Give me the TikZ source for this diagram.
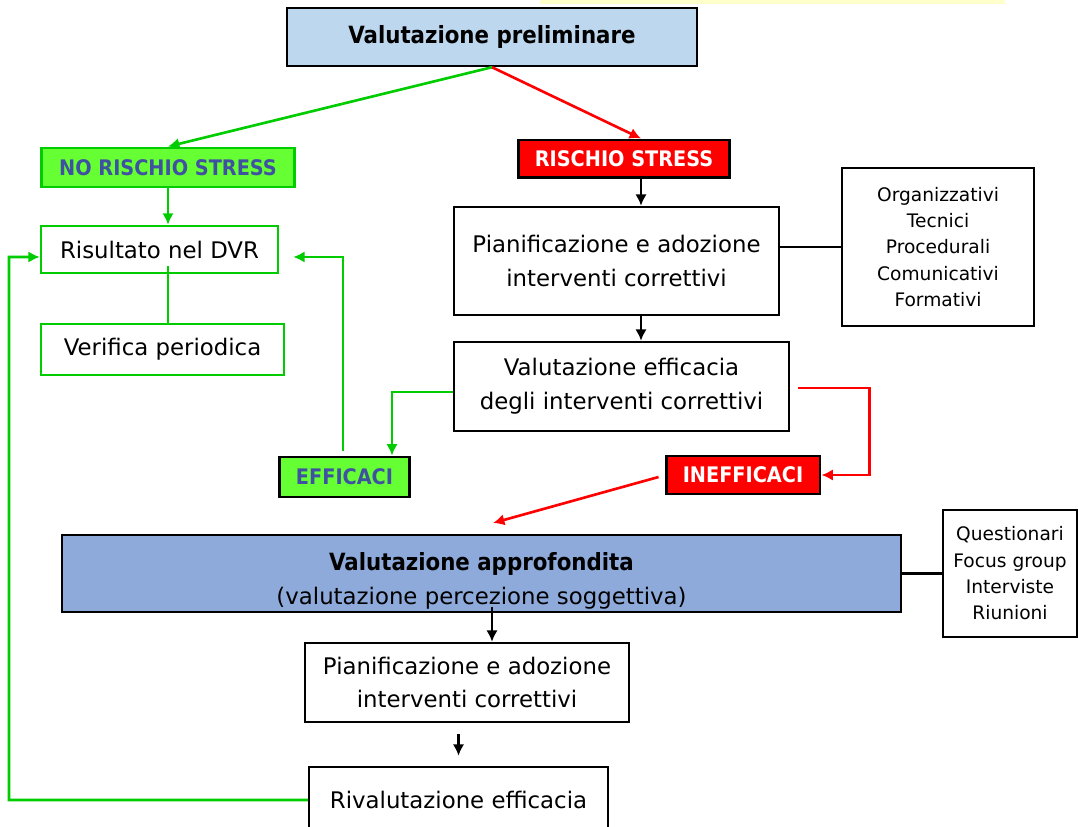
\documentclass[tikz,border=0pt]{standalone}
\usepackage{fontspec}
\setmainfont{DejaVu Sans}
\newfontfamily\condfont{DejaVu Sans Condensed}
\usepackage{xcolor}
\usetikzlibrary{positioning,calc,arrows.meta}

\definecolor{prelimblue}{HTML}{BDD7EE}
\definecolor{deepblue}{HTML}{8EAADB}
\definecolor{flaggreen}{HTML}{66FF33}
\definecolor{linegreen}{HTML}{00CC00}
\definecolor{labelblue}{HTML}{3F51A0}
\definecolor{paleyellow}{HTML}{FFFFCC}

\newcommand{\boxfont}{\fontsize{13}{19.3}\selectfont}
\newcommand{\listfont}{\fontsize{10.6}{15}\selectfont}
\newcommand{\headfont}{\condfont\bfseries\fontsize{13.5}{19.8}\selectfont}
\newcommand{\flagfont}{\condfont\bfseries\fontsize{12.2}{14}\selectfont}

\begin{document}
\begin{tikzpicture}[x=0.02cm,y=-0.02cm,
    box/.style={draw=black, line width=1.4pt, fill=white, align=center, inner sep=0pt, font=\boxfont},
    greenbox/.style={box, draw=linegreen, line width=1.5pt},
    listbox/.style={box, font=\listfont},
    flag/.style={draw=black, line width=1.7pt, inner sep=0pt, font=\flagfont},
    goodflag/.style={flag, fill=flaggreen, text=labelblue},
    badflag/.style={flag, fill=red, text=white},
    arr/.style={black, line width=1.4pt, -{Latex[length=6.5pt,width=6.5pt]}},
    garr/.style={linegreen, line width=1.5pt, -{Latex[length=6.5pt,width=6.5pt]}},
    rarr/.style={red, line width=1.5pt, -{Latex[length=6.5pt,width=6.5pt]}},
    gline/.style={linegreen, line width=1.5pt}]

    \clip (0,0) rectangle (1078,827);

    % strip on top
    \fill[paleyellow] (540,0) rectangle (1005,4);

    % first stage
    \node[box, fill=prelimblue, font=\headfont, minimum width=8.2cm, minimum height=1.16cm] (prelim) at (492,37) {Valutazione preliminare};
    \node[goodflag, draw=linegreen, minimum width=5.08cm, minimum height=0.78cm] (norisk) at (168,167.5) {NO RISCHIO STRESS};
    \node[badflag, minimum width=4.24cm, minimum height=0.76cm] (risk) at (624,159) {RISCHIO STRESS};
    \coordinate (axis) at (641,0);

    % left branch
    \node[greenbox, minimum width=4.74cm, minimum height=0.94cm] (risultato) at (159.5,249.5) {Risultato nel DVR};
    \node[greenbox, minimum width=4.86cm, minimum height=1.02cm] (verifica) at (162.5,349.5) {Verifica periodica};

    % right branch
    \node[box, minimum width=6.5cm, minimum height=2.16cm] (pian1) at (616.5,261) {Pianificazione e adozione\\interventi correttivi};
    \node[listbox, minimum width=3.84cm, minimum height=3.16cm] (org) at (938,247) {Organizzativi\\Tecnici\\Procedurali\\Comunicativi\\Formativi};
    \node[box, minimum width=6.7cm, minimum height=1.78cm] (valeff) at (621.5,386.5) {Valutazione efficacia\\degli interventi correttivi};
    \node[goodflag, minimum width=2.62cm, minimum height=0.8cm] (efficaci) at (344.5,477) {EFFICACI};
    \node[badflag, minimum width=3.08cm, minimum height=0.76cm] (inefficaci) at (743,475) {INEFFICACI};

    % second stage
    \node[box, fill=deepblue, minimum width=16.78cm, minimum height=1.54cm] (appro) at (481.5,573.5) {};
    \node[align=center, font=\boxfont, inner sep=0pt] (approtext) at (481.5,581) {{\headfont Valutazione approfondita}\\(valutazione percezione soggettiva)};
    \node[listbox, minimum width=2.68cm, minimum height=2.54cm] (quest) at (1010,573.5) {Questionari\\Focus group\\Interviste\\Riunioni};
    \node[box, minimum width=6.48cm, minimum height=1.58cm] (pian2) at (467,682.5) {Pianificazione e adozione\\interventi correttivi};
    \node[box, minimum width=5.98cm, minimum height=1.32cm] (rival) at (458.5,800) {Rivalutazione efficacia};

    \coordinate (dvrin) at ($(risultato.east)+(14,7.5)$);
    \coordinate (loop) at (9,257);
    \coordinate (approin) at (493,523);

    % connectors
    \draw[garr] (prelim.south) -- (norisk.north);
    \draw[rarr] (prelim.south) -- (risk.north -| axis);
    \draw[garr] (norisk.south) -- (norisk.south |- risultato.north);
    \draw[gline] ($(risultato.south -| norisk.south)+(0,-8)$) -- (verifica.north -| norisk.south);
    \draw[arr] (risk.south -| axis) -- (pian1.north -| axis);
    \draw[line width=1.4pt] (pian1.east |- org.west) -- (org.west);
    \draw[arr] (pian1.south -| axis) -- (valeff.north -| axis);
    \draw[garr] ($(valeff.west)+(0,5.5)$) -| ($(efficaci.north)+(47.5,0)$);
    \draw[garr] ($(efficaci.north)+(-1.5,-5)$) |- (dvrin);
    \draw[rarr] ($(valeff.east)+(8,1.5)$) -| ($(inefficaci.east)+(48,0)$) -- (inefficaci.east);
    \draw[rarr] ($(inefficaci.west)+(-6,2)$) -- (approin);
    \draw[line width=1.4pt] (appro.east) -- (quest.west);
    \draw[arr] ($(appro.south -| prelim.south)+(0,-6)$) -- (pian2.north -| prelim.south);
    \draw[arr] ($(pian2.south -| rival.north)+(0,11)$) -- ($(rival.north)+(0,-10)$);
    \draw[garr] (rival.west) -| (loop) -- ($(risultato.west)+(0,7.5)$);
\end{tikzpicture}
\end{document}
